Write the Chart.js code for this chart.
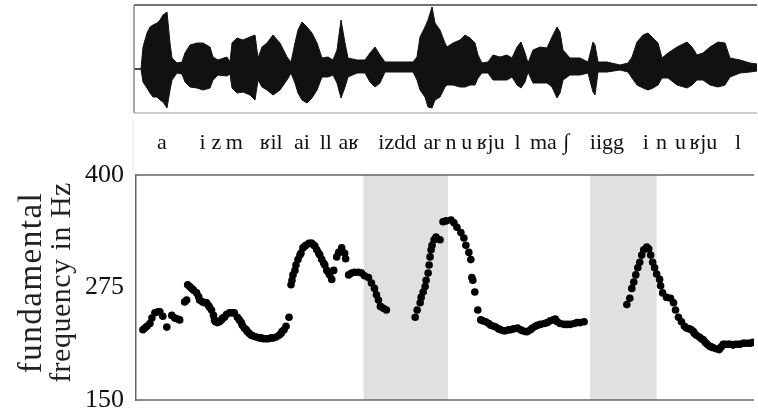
<!DOCTYPE html>
<html>
<head>
<meta charset="utf-8">
<script src="https://cdn.jsdelivr.net/npm/chart.js@4"></script>
<style>
  body { margin: 0; background: #fff; }
  #wrap { position: relative; width: 758px; height: 413px; }
  #waveBox { position: absolute; left: 0; top: 0; }
  #f0Box { position: absolute; left: 0; top: 120px; }
</style>
</head>
<body>
<div id="wrap">
  <div id="waveBox"><canvas id="wave" width="758" height="120"></canvas></div>
  <div id="f0Box"><canvas id="f0" width="758" height="293"></canvas></div>
</div>
<script>
// time axis: arbitrary frames, 0 .. 622
const waveTime = [-2, 5, 7, 11, 14, 17, 21, 24, 27, 31, 34, 36, 41, 46, 49, 54, 61, 67, 74, 77, 82, 91, 94, 96, 101, 107, 114, 119, 122, 126, 131, 137, 144, 151, 155, 159, 162, 166, 171, 176, 181, 186, 192, 197, 201, 205, 209, 212, 221, 229, 234, 239, 244, 249, 261, 277, 281, 284, 289, 292, 296, 299, 304, 309, 311, 317, 324, 329, 334, 339, 342, 346, 352, 357, 364, 371, 376, 381, 385, 389, 392, 397, 404, 411, 416, 421, 424, 427, 434, 444, 452, 457, 459, 462, 471, 484, 492, 496, 501, 507, 512, 517, 522, 526, 532, 541, 551, 556, 561, 567, 574, 582, 589, 594, 604, 614, 621];
const waveUpper = [0, 0, 22, 36, 42, 44, 46, 49, 54, 57, 26, 11, 6, 7, 16, 24, 26, 26, 22, 12, 9, 12, 7, 26, 31, 29, 32, 34, 11, 22, 26, 34, 26, 12, 7, 26, 39, 47, 42, 36, 26, 11, 12, 9, 19, 49, 26, 11, 9, 9, 16, 22, 14, 7, 7, 7, 12, 32, 42, 49, 62, 46, 39, 26, 22, 26, 29, 34, 31, 26, 14, 6, 7, 14, 12, 14, 11, 22, 27, 16, 6, 19, 22, 21, 32, 42, 37, 19, 11, 11, 7, 27, 24, 7, 7, 4, 6, 12, 27, 34, 36, 31, 26, 11, 16, 22, 27, 22, 14, 16, 22, 27, 26, 11, 9, 6, 5];
const waveLower = [0, 0, -13, -19, -24, -28, -28, -31, -33, -39, -21, -11, -4, -5, -13, -18, -19, -21, -19, -11, -6, -7, -5, -19, -24, -23, -26, -31, -11, -18, -21, -26, -21, -11, -4, -14, -24, -31, -34, -29, -21, -8, -8, -6, -14, -29, -18, -8, -4, -4, -13, -18, -14, -3, -3, -3, -11, -21, -28, -38, -39, -31, -28, -18, -16, -16, -18, -18, -16, -16, -9, -4, -4, -11, -11, -11, -8, -16, -19, -13, -3, -14, -14, -14, -18, -29, -24, -11, -6, -6, -4, -23, -26, -3, -3, -1, -3, -9, -16, -19, -21, -19, -16, -9, -9, -16, -19, -16, -11, -11, -16, -18, -16, -8, -4, -3, -2];

const f0Time = [
  7, 9, 11, 14, 16, 19, 22, 24, 27, 31, 36, 39, 42, 44, 49, 51,
  52, 54, 56, 58, 61, 63, 64, 67, 69, 71, 73, 74, 76, 78, 79, 80, 82, 84, 86, 87, 89, 91, 94, 96, 97, 99,
  102, 104, 106, 107, 109, 111, 112, 114, 116, 118, 121, 124, 126, 128, 131, 133, 136, 138, 141, 144, 146, 147, 149, 151, 154,
  156, 157, 158, 160, 161, 163, 165, 166, 168, 170, 171, 174, 176, 177, 179, 180, 182, 184, 185, 187, 189, 190, 192, 194, 195, 197,
  199, 202, 204, 207, 210, 211, 214, 217, 220, 224, 227, 230, 234, 237, 240, 242, 244, 246, 249, 252,
  281, 283, 286, 287, 289, 291, 292, 294, 295, 296, 297, 298, 300, 302, 306,
  309, 312, 317, 320, 323, 327, 330, 332, 335, 337, 338, 339, 341, 344, 347, 349, 352, 355, 357, 360, 362, 365, 367, 370, 372, 375, 377,
  380, 384, 387, 389, 392, 394, 397, 399, 402, 404, 407, 411, 414, 417, 420, 422, 424, 427, 431, 434, 437, 441, 444, 447, 451,
  494, 497, 499, 501, 503, 505, 507, 509, 511, 514, 516, 518, 520, 522, 524, 527, 528, 530, 534, 538, 541, 543, 546, 549, 552,
  554, 557, 559, 561, 562, 564, 567, 569, 571, 573, 575, 577, 579, 581, 584, 587, 589, 591, 593, 596, 598, 601, 603, 606, 608, 611, 613, 616, 618, 621
];
const f0Hz = [
  228, 230, 232, 235, 241, 247, 248, 248, 243, 231, 244, 241, 240, 239, 259, 261,
  278, 276, 274, 272, 269, 265, 261, 259, 258, 258, 255, 253, 250, 244, 239, 237, 236, 237, 239, 241, 242, 245, 247, 247, 247, 247,
  242, 239, 236, 233, 230, 228, 226, 224, 222, 221, 220, 219, 219, 218, 218, 218, 219, 219, 220, 222, 224, 226, 228, 232, 242,
  278, 283, 289, 294, 300, 306, 311, 313, 319, 321, 322, 324, 324, 324, 322, 321, 317, 313, 311, 306, 302, 300, 294, 291, 289, 284,
  294, 309, 314, 319, 313, 307, 289, 291, 292, 292, 291, 288, 286, 280, 274, 267, 261, 254, 252, 250,
  242, 250, 258, 264, 270, 276, 283, 291, 300, 309, 317, 322, 328, 331, 328,
  348, 349, 350, 347, 342, 336, 330, 322, 314, 306, 286, 283, 270, 250, 239, 238, 237, 235, 233, 232, 231, 229, 228, 227, 227, 228, 228,
  229, 230, 228, 227, 226, 226, 228, 230, 232, 233, 234, 235, 236, 238, 239, 240, 237, 235, 234, 234, 234, 235, 236, 236, 237,
  256, 263, 274, 281, 289, 297, 303, 311, 317, 320, 318, 311, 303, 297, 290, 284, 277, 269, 264, 263, 258, 250, 242, 237, 232,
  230, 229, 228, 226, 224, 222, 220, 218, 217, 214, 212, 210, 209, 208, 207, 206, 209, 212, 212, 212, 212, 211, 212, 212, 212, 213, 213, 213, 213, 214
];

// shaded intervals (time frames)
const shadeStart = [229, 457];
const shadeEnd = [314, 524];

// phonetic labels and their time positions
const segLabels = ["a", "i", "z", "m", "ʁil", "ai", "ll", "aʁ", "izdd", "ar", "n", "u", "ʁju", "l", "ma", "∫", "iigg", "i", "n", "u", "ʁju", "l"];
const segTimes = [26, 67, 81, 99, 136, 167, 191, 214, 263, 298, 317, 333, 357, 384, 410, 433, 474, 513, 529, 548, 571, 606];

const yTicks = [150, 275, 400];
const yTitle = ["fundamental", "frequency in Hz"];

const serif = "'Liberation Serif', 'DejaVu Serif', serif";

new Chart(document.getElementById("wave"), {
  type: "line",
  data: {
    datasets: [
      {
        data: waveTime.map((t, i) => ({ x: t, y: waveUpper[i] })),
        borderColor: "#111",
        backgroundColor: "#111",
        borderWidth: 1,
        pointRadius: 0,
        fill: "+1",
      },
      {
        data: waveTime.map((t, i) => ({ x: t, y: waveLower[i] })),
        borderColor: "#111",
        borderWidth: 1,
        pointRadius: 0,
        fill: false,
      },
    ],
  },
  options: {
    responsive: false,
    animation: false,
    layout: { padding: { top: 5, bottom: 7, left: 134, right: 1 } },
    plugins: { legend: { display: false }, tooltip: { enabled: false } },
    scales: {
      x: { type: "linear", min: -2, max: 621, display: false },
      y: { min: -44, max: 64, display: false },
    },
  },
  plugins: [{
    id: "waveFrame",
    afterDraw(chart) {
      const { ctx, chartArea: a } = chart;
      ctx.save();
      ctx.lineWidth = 1.5;
      ctx.strokeStyle = "#444";
      ctx.beginPath(); ctx.moveTo(a.left, a.top); ctx.lineTo(a.right, a.top); ctx.stroke();
      ctx.strokeStyle = "#888";
      ctx.beginPath(); ctx.moveTo(a.left, a.top); ctx.lineTo(a.left, a.bottom); ctx.stroke();
      ctx.strokeStyle = "#bbb";
      ctx.beginPath(); ctx.moveTo(a.left, a.bottom); ctx.lineTo(a.right, a.bottom); ctx.stroke();
      ctx.restore();
    },
  }],
});

new Chart(document.getElementById("f0"), {
  type: "scatter",
  data: {
    datasets: [{
      data: f0Time.map((t, i) => ({ x: t, y: f0Hz[i] })),
      backgroundColor: "#000",
      borderColor: "#000",
      pointRadius: 3.8,
      borderWidth: 0,
    }],
  },
  options: {
    responsive: false,
    animation: false,
    layout: { padding: { top: 55, bottom: 13, left: 0, right: 0 } },
    plugins: { legend: { display: false }, tooltip: { enabled: false } },
    scales: {
      x: { type: "linear", min: 0, max: 622, display: false },
      y: {
        min: 150,
        max: 400,
        afterBuildTicks: (s) => { s.ticks = yTicks.map((v) => ({ value: v })); },
        afterFit: (s) => { s.width = 136; s.paddingTop = 0; s.paddingBottom = 0; },
        ticks: { font: { family: serif, size: 26, lineHeight: 1 }, color: "#111", padding: 12 },
        grid: { display: false, drawTicks: false },
        border: { display: true, color: "#666", width: 1.5 },
      },
    },
  },
  plugins: [{
    id: "shadeAndLabels",
    beforeDatasetsDraw(chart) {
      const { ctx, chartArea: a, scales: { x } } = chart;
      ctx.save();
      ctx.fillStyle = "#e0e0e0";
      shadeStart.forEach((s, i) => {
        const x0 = x.getPixelForValue(s), x1 = x.getPixelForValue(shadeEnd[i]);
        ctx.fillRect(x0, a.top, x1 - x0, a.bottom - a.top);
      });
      ctx.strokeStyle = "#666";
      ctx.lineWidth = 1.5;
      ctx.beginPath();
      ctx.moveTo(a.left, a.top); ctx.lineTo(a.right, a.top);
      ctx.moveTo(a.left, a.bottom); ctx.lineTo(a.right, a.bottom);
      ctx.stroke();
      // faint separator left of the label row
      ctx.strokeStyle = "#e4e4e4";
      ctx.lineWidth = 1;
      ctx.beginPath(); ctx.moveTo(a.left - 3, 0); ctx.lineTo(a.left - 3, a.top - 2); ctx.stroke();

      ctx.fillStyle = "#111";
      ctx.font = "22px " + serif;
      ctx.textAlign = "center";
      ctx.textBaseline = "middle";
      segLabels.forEach((lab, i) => {
        ctx.fillText(lab, x.getPixelForValue(segTimes[i]), 23);
      });

      // axis title, two lines rotated
      const midY = (a.top + a.bottom) / 2 - 5;
      ctx.fillStyle = "#222";
      ctx.font = "33px " + serif;
      ctx.translate(32, midY);
      ctx.rotate(-Math.PI / 2);
      ctx.letterSpacing = "1.5px";
      ctx.fillText(yTitle[0], 0, 0);
      ctx.setTransform(1, 0, 0, 1, 0, 0);
      ctx.font = "30px " + serif;
      ctx.translate(62, midY);
      ctx.rotate(-Math.PI / 2);
      ctx.letterSpacing = "0.5px";
      ctx.fillText(yTitle[1], 0, 0);
      ctx.restore();
    },
  }],
});
</script>
</body>
</html>
